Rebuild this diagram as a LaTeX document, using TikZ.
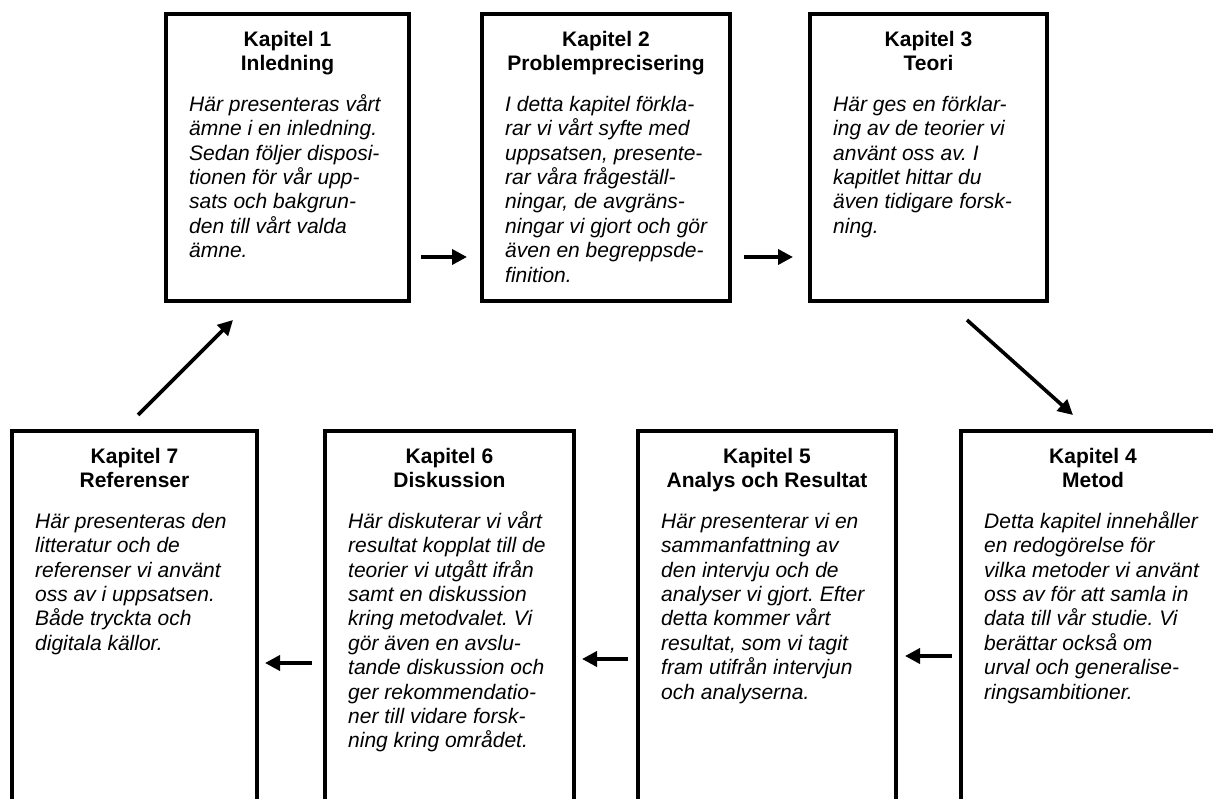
\documentclass[tikz,border=0pt]{standalone}
\usepackage{fontspec}
\setmainfont{Liberation Sans}
\usetikzlibrary{arrows.meta}
\frenchspacing

% centred bold heading and left-aligned italic body, lines broken by hand
\newcommand\chaptitle[1]{\parbox[t]{300pt}{\centering\bfseries #1}}
\newcommand\chapbody[1]{\parbox[t]{300pt}{\raggedright\itshape #1}}

\begin{document}
\begin{tikzpicture}[x=1pt,y=-1pt,
  chapter/.style={draw, line width=4pt, inner sep=0pt, outer sep=0pt, anchor=north west},
  heading/.style={inner sep=0pt, anchor=base, font=\fontsize{21pt}{24.4pt}\selectfont},
  body/.style={inner sep=0pt, anchor=base west, font=\fontsize{21pt}{24.4pt}\selectfont},
  flow/.style={line width=3.6pt, -{Triangle[length=15pt,width=15pt]}}]

\useasboundingbox (0,0) rectangle (1213,799);
\fill[white] (0,0) rectangle (1213,799);
\clip (0,0) rectangle (1213,799);

% upper row
\node[chapter, minimum width=243pt, minimum height=287pt] (k1) at (166,14.5) {};
\node[chapter, minimum width=248pt, minimum height=287pt] (k2) at (482,14.5) {};
\node[chapter, minimum width=237pt, minimum height=287pt] (k3) at (810,14.5) {};
% lower row (runs past the lower edge)
\node[chapter, minimum width=264pt, minimum height=420pt] (k4) at (961,431.5) {};
\node[chapter, minimum width=258pt, minimum height=420pt] (k5) at (638,431.5) {};
\node[chapter, minimum width=249pt, minimum height=420pt] (k6) at (325,431.5) {};
\node[chapter, minimum width=245pt, minimum height=420pt] (k7) at (12,431.5) {};

% headings
\foreach \n/\t in {1/Inledning, 2/Problemprecisering, 3/Teori, 4/Metod,
                   5/Analys och Resultat, 6/Diskussion, 7/Referenser}{
  \node[heading] (h\n) at ([yshift=-31.8pt]k\n.north) {\chaptitle{Kapitel \n\\ \t}};
}

% chapter descriptions
\node[body] (b1) at ([shift={(23pt,-96.8pt)}]k1.north west) {\chapbody{%
  Här presenteras vårt\\ ämne i en inledning.\\ Sedan följer disposi-\\
  tionen för vår upp-\\ sats och bakgrun-\\ den till vårt valda\\ ämne.}};
\node[body] (b2) at ([shift={(23pt,-96.8pt)}]k2.north west) {\chapbody{%
  I detta kapitel förkla-\\ rar vi vårt syfte med\\ uppsatsen, presente-\\
  rar våra frågeställ-\\ ningar, de avgräns-\\ ningar vi gjort och gör\\
  även en begreppsde-\\ finition.}};
\node[body] (b3) at ([shift={(23pt,-96.8pt)}]k3.north west) {\chapbody{%
  Här ges en förklar-\\ ing av de teorier vi\\ använt oss av. I\\
  kapitlet hittar du\\ även tidigare forsk-\\ ning.}};
\node[body] (b4) at ([shift={(23pt,-96.8pt)}]k4.north west) {\chapbody{%
  Detta kapitel innehåller\\ en redogörelse för\\ vilka metoder vi använt\\
  oss av för att samla in\\ data till vår studie. Vi\\ berättar också om\\
  urval och generalise-\\ ringsambitioner.}};
\node[body] (b5) at ([shift={(23pt,-96.8pt)}]k5.north west) {\chapbody{%
  Här presenterar vi en\\ sammanfattning av\\ den intervju och de\\
  analyser vi gjort. Efter\\ detta kommer vårt\\ resultat, som vi tagit\\
  fram utifrån intervjun\\ och analyserna.}};
\node[body] (b6) at ([shift={(23pt,-96.8pt)}]k6.north west) {\chapbody{%
  Här diskuterar vi vårt\\ resultat kopplat till de\\ teorier vi utgått ifrån\\
  samt en diskussion\\ kring metodvalet. Vi\\ gör även en avslu-\\
  tande diskussion och\\ ger rekommendatio-\\ ner till vidare forsk-\\
  ning kring området.}};
\node[body] (b7) at ([shift={(23pt,-96.8pt)}]k7.north west) {\chapbody{%
  Här presenteras den\\ litteratur och de\\ referenser vi använt\\
  oss av i uppsatsen.\\ Både tryckta och\\ digitala källor.}};

% reading order
\draw[flow] ([shift={(12pt,44.5pt)}]k1.south east) -- ([shift={(-15pt,44.5pt)}]k2.south west);
\draw[flow] ([shift={(14pt,44.5pt)}]k2.south east) -- ([shift={(-17pt,44.5pt)}]k3.south west);
\draw[flow] ([shift={(157pt,-18.5pt)}]k3.south west) -- ([shift={(112pt,16.5pt)}]k4.north west);
\draw[flow] ([shift={(-9pt,-224.5pt)}]k4.north west) -- ([shift={(9pt,-224.5pt)}]k5.north east);
\draw[flow] ([shift={(-10pt,-227.5pt)}]k5.north west) -- ([shift={(8pt,-227.5pt)}]k6.north east);
\draw[flow] ([shift={(-13pt,-231.5pt)}]k6.north west) -- ([shift={(8pt,-231.5pt)}]k7.north east);
\draw[flow] ([shift={(126pt,16.5pt)}]k7.north west) -- ([shift={(67pt,-18.5pt)}]k1.south west);

\end{tikzpicture}
\end{document}
